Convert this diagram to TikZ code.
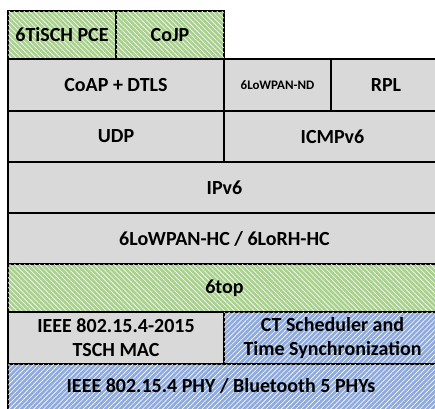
\documentclass[tikz,border=0pt]{standalone}
\usepackage{fontspec}
\setmainfont{Carlito}
\usetikzlibrary{patterns.meta}
\definecolor{layergray}{HTML}{D9D9D9}
\definecolor{layergreen}{HTML}{A9D18E}
\definecolor{layerblue}{HTML}{8FAADC}
\tikzset{
  layer/.style={draw=black, line width=2pt, anchor=north west, inner sep=0pt,
    font=\bfseries\fontsize{20}{24}\selectfont, align=center},
  grey/.style={layer, fill=layergray},
  green/.style={layer, fill=layergreen,
    postaction={pattern={Lines[angle=-45, distance=3.5pt, line width=0.6pt]}, pattern color=white}},
  blue/.style={layer, fill=layerblue,
    postaction={pattern={Lines[angle=45, distance=3.5pt, line width=0.6pt]}, pattern color=white}},
}
\begin{document}
\begin{tikzpicture}[x=1pt, y=-1pt]
  \useasboundingbox (0,0) rectangle (435,408);
  \clip (0,0) rectangle (435,408);
  % top row
  \node[green, minimum width=108, minimum height=48] (pce) at (7,10) {6TiSCH PCE};
  \node[green, minimum width=108, minimum height=48] (cojp) at (115,10) {CoJP};
  % application / routing
  \node[grey, minimum width=216, minimum height=52] (coap) at (7,58) {CoAP + DTLS};
  \node[grey, minimum width=107, minimum height=52, font=\bfseries\fontsize{13}{15}\selectfont] (nd) at (223,58) {6LoWPAN-ND};
  \node[grey, minimum width=110, minimum height=52] (rpl) at (330,58) {RPL};
  \node[grey, minimum width=216, minimum height=51] (udp) at (7,110) {UDP};
  \node[grey, minimum width=217, minimum height=51] (icmp) at (223,110) {ICMPv6};
  % network / adaptation
  \node[grey, minimum width=433, minimum height=51] (ipv6) at (7,161) {IPv6};
  \node[grey, minimum width=433, minimum height=51] (hc) at (7,212) {6LoWPAN-HC / 6LoRH-HC};
  \node[green, minimum width=433, minimum height=48] (sixtop) at (7,263) {6top};
  % mac / phy
  \node[grey, minimum width=216, minimum height=52] (mac) at (7,311) {IEEE 802.15.4-2015\\TSCH MAC};
  \node[blue, minimum width=217, minimum height=52] (ct) at (223,311) {CT Scheduler and\\Time Synchronization};
  \node[blue, minimum width=433, minimum height=60] (phy) at (7,363) {};
  \node[font=\bfseries\fontsize{20}{24}\selectfont] (phylabel) at (221,386) {IEEE 802.15.4 PHY / Bluetooth 5 PHYs};
\end{tikzpicture}
\end{document}
